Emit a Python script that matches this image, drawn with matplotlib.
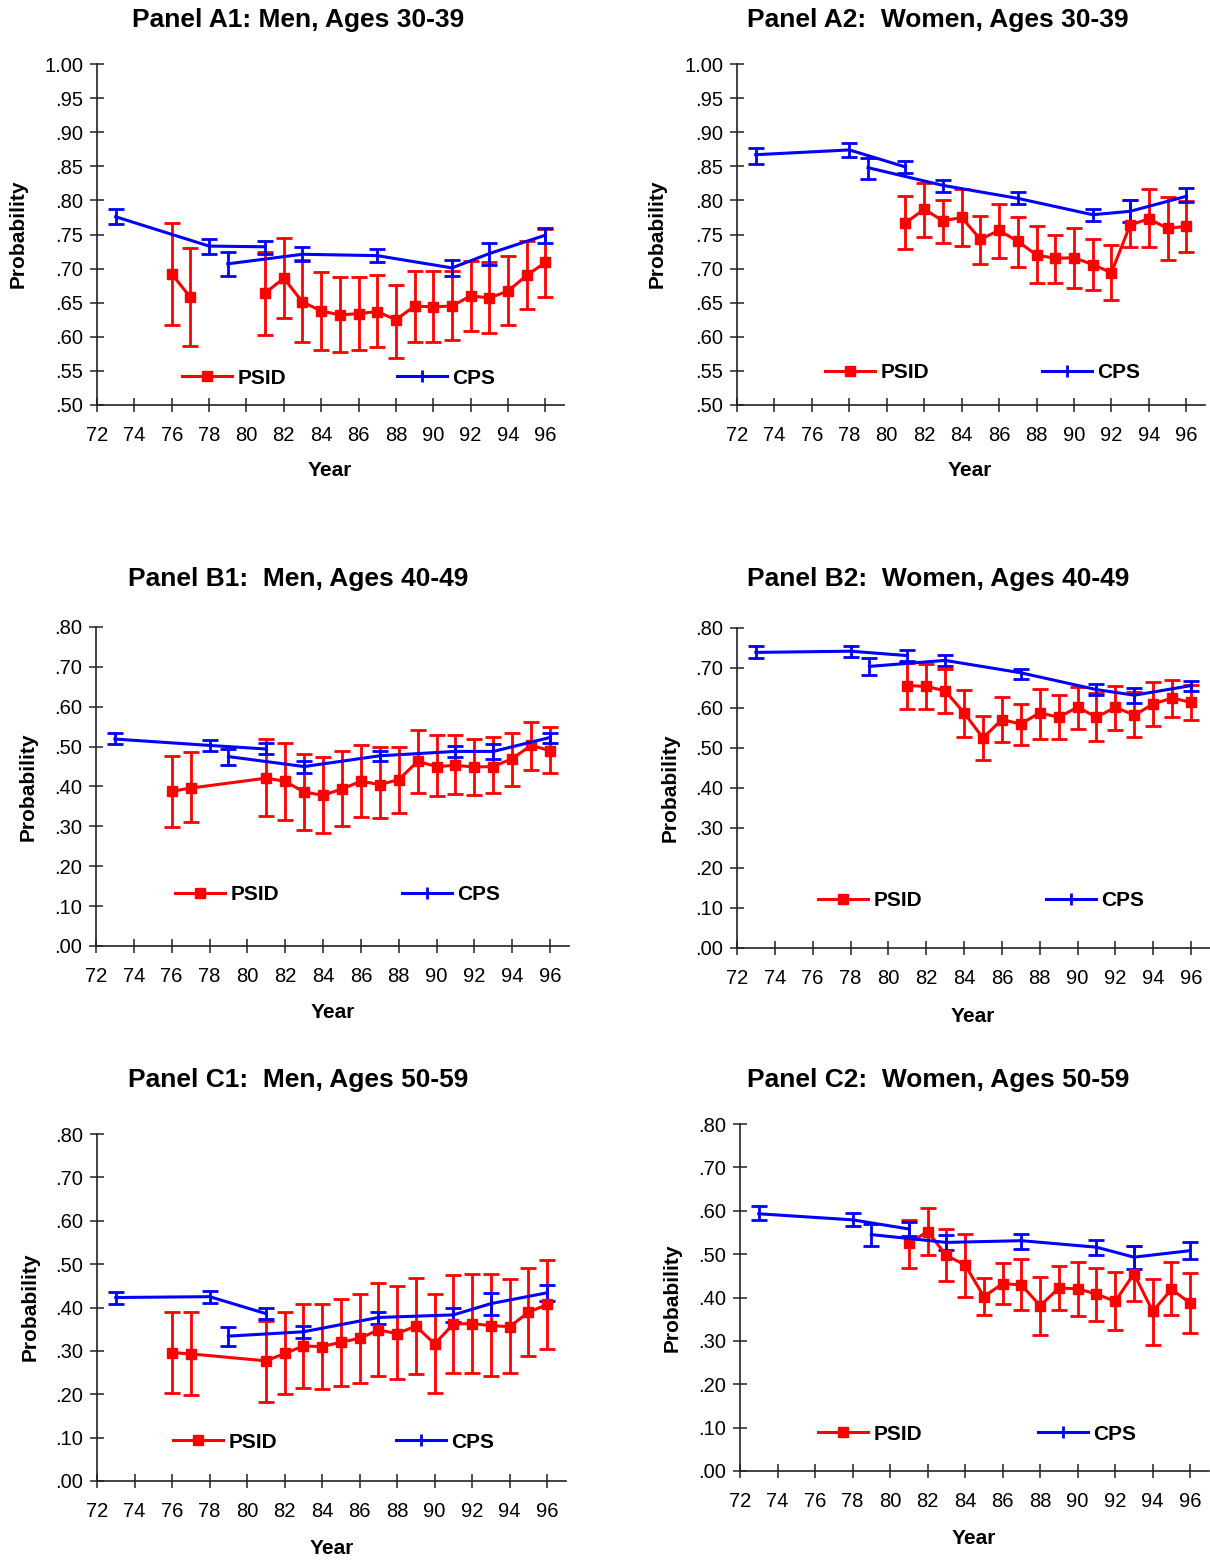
import matplotlib
matplotlib.use("Agg")
import matplotlib.pyplot as plt
from matplotlib.lines import Line2D
from matplotlib.ticker import FuncFormatter

plt.rcParams['font.family'] = ['Liberation Sans', 'DejaVu Sans']

RED = '#ff0000'
BLUE = '#0000ff'

# years
psid_years_long = [76, 77, 81, 82, 83, 84, 85, 86, 87, 88, 89, 90, 91, 92, 93, 94, 95, 96]
psid_years_short = [81, 82, 83, 84, 85, 86, 87, 88, 89, 90, 91, 92, 93, 94, 95, 96]
cps_years_old = [73, 78, 81]
cps_years_new = [79, 83, 87, 91, 93, 96]

# Panel A1: men 30-39
a1_psid = [.692, .658, .664, .686, .651, .638, .632, .634, .637, .625, .645, .644, .645, .660, .657, .667, .690, .709]
a1_psid_lo = [.618, .586, .602, .627, .592, .580, .578, .581, .585, .569, .593, .592, .595, .608, .605, .617, .641, .659]
a1_psid_hi = [.767, .730, .725, .745, .713, .695, .687, .687, .690, .676, .696, .696, .697, .711, .709, .718, .741, .758]
a1_cps_old = [.776, .733, .732]
a1_cps_old_lo = [.765, .722, .722]
a1_cps_old_hi = [.788, .744, .741]
a1_cps_new = [.707, .721, .719, .701, .722, .749]
a1_cps_new_lo = [.689, .711, .709, .689, .706, .737]
a1_cps_new_hi = [.724, .731, .729, .712, .737, .760]

# Panel A2: women 30-39
a2_psid = [.767, .787, .770, .775, .743, .756, .740, .720, .715, .716, .706, .694, .764, .773, .759, .762]
a2_psid_lo = [.729, .747, .737, .733, .707, .716, .703, .679, .679, .672, .668, .654, .731, .732, .713, .724]
a2_psid_hi = [.806, .826, .801, .817, .777, .795, .775, .762, .750, .760, .744, .735, .800, .816, .805, .799]
a2_cps_old = [.867, .874, .849]
a2_cps_old_lo = [.853, .864, .840]
a2_cps_old_hi = [.877, .884, .858]
a2_cps_new = [.848, .822, .803, .779, .784, .806]
a2_cps_new_lo = [.832, .813, .794, .770, .769, .797]
a2_cps_new_hi = [.862, .830, .813, .788, .800, .818]

# Panel B1: men 40-49
b1_psid = [.388, .396, .421, .413, .386, .378, .394, .413, .405, .417, .463, .450, .453, .449, .450, .470, .503, .490]
b1_psid_lo = [.299, .311, .327, .317, .291, .283, .302, .323, .320, .334, .384, .376, .381, .378, .384, .402, .442, .434]
b1_psid_hi = [.477, .486, .519, .509, .481, .475, .489, .504, .500, .500, .542, .528, .528, .519, .523, .535, .561, .550]
b1_cps_old = [.519, .503, .494]
b1_cps_old_lo = [.506, .489, .481]
b1_cps_old_hi = [.534, .517, .509]
b1_cps_new = [.475, .450, .477, .488, .488, .523]
b1_cps_new_lo = [.455, .434, .463, .474, .469, .509]
b1_cps_new_hi = [.494, .463, .489, .502, .506, .535]

# Panel B2: women 40-49
b2_psid = [.656, .654, .643, .588, .525, .571, .560, .588, .577, .602, .577, .602, .582, .610, .625, .614]
b2_psid_lo = [.598, .598, .588, .528, .471, .514, .508, .523, .523, .548, .517, .546, .527, .554, .577, .571]
b2_psid_hi = [.712, .711, .698, .644, .581, .627, .610, .648, .633, .652, .637, .654, .639, .665, .671, .657]
b2_cps_old = [.739, .742, .731]
b2_cps_old_lo = [.725, .728, .717]
b2_cps_old_hi = [.754, .756, .744]
b2_cps_new = [.704, .719, .688, .646, .632, .656]
b2_cps_new_lo = [.682, .706, .673, .633, .613, .643]
b2_cps_new_hi = [.725, .732, .698, .660, .650, .668]

# Panel C1: men 50-59
c1_psid = [.296, .293, .277, .294, .311, .310, .320, .329, .348, .340, .357, .316, .362, .363, .358, .356, .389, .407]
c1_psid_lo = [.202, .199, .182, .201, .214, .212, .219, .227, .241, .235, .247, .202, .250, .248, .241, .248, .289, .304]
c1_psid_hi = [.389, .390, .369, .390, .409, .409, .419, .432, .456, .449, .467, .430, .475, .477, .477, .465, .490, .510]
c1_cps_old = [.423, .425, .386]
c1_cps_old_lo = [.409, .411, .373]
c1_cps_old_hi = [.436, .438, .400]
c1_cps_new = [.334, .344, .377, .383, .409, .434]
c1_cps_new_lo = [.311, .329, .361, .367, .383, .415]
c1_cps_new_hi = [.354, .358, .390, .398, .434, .452]

# Panel C2: women 50-59
c2_psid = [.525, .552, .497, .475, .402, .432, .429, .381, .422, .420, .408, .391, .455, .368, .419, .387]
c2_psid_lo = [.469, .497, .437, .402, .360, .385, .372, .314, .372, .358, .345, .325, .393, .291, .359, .319]
c2_psid_hi = [.579, .606, .558, .547, .445, .479, .489, .448, .472, .481, .469, .458, .519, .442, .482, .456]
c2_cps_old = [.593, .579, .558]
c2_cps_old_lo = [.578, .564, .542]
c2_cps_old_hi = [.612, .594, .573]
c2_cps_new = [.545, .527, .531, .516, .493, .508]
c2_cps_new_lo = [.518, .510, .512, .498, .465, .489]
c2_cps_new_hi = [.569, .545, .546, .533, .519, .527]

W, H = 1210, 1560
fig = plt.figure(figsize=(W / 100, H / 100), dpi=100)


def px_axes(left, right, top, bottom):
    return fig.add_axes([left / W, 1 - bottom / H, (right - left) / W, (bottom - top) / H])


def yfmt(v, pos):
    if v > 0.999:
        return '1.00'
    return ('%.2f' % v)[1:]


def draw_errbar(ax, x, mid, lo, hi, color, marker):
    err = [[m - l for m, l in zip(mid, lo)], [h - m for m, h in zip(mid, hi)]]
    ax.errorbar(x, mid, yerr=err, color=color, lw=2.2, elinewidth=2.0,
                capsize=5.5, capthick=2.0, marker=marker, ms=7.5,
                markeredgecolor=color, markerfacecolor=color, zorder=3)


def panel(box, title, title_xy, ylab_xy, xlab_xy, leg_psid, leg_cps,
          psid_x, psid, psid_lo, psid_hi, cps_old, cps_old_lo, cps_old_hi,
          cps_new, cps_new_lo, cps_new_hi, ylim, ystep, psid_split=None):
    ax = px_axes(*box)
    if psid_split is None:
        draw_errbar(ax, psid_x, psid, psid_lo, psid_hi, RED, 's')
    else:
        k = psid_split
        draw_errbar(ax, psid_x[:k], psid[:k], psid_lo[:k], psid_hi[:k], RED, 's')
        draw_errbar(ax, psid_x[k:], psid[k:], psid_lo[k:], psid_hi[k:], RED, 's')
    draw_errbar(ax, cps_years_old, cps_old, cps_old_lo, cps_old_hi, BLUE, None)
    draw_errbar(ax, cps_years_new, cps_new, cps_new_lo, cps_new_hi, BLUE, None)

    ax.set_xlim(72, 97)
    ax.set_ylim(*ylim)
    ax.set_xticks(range(72, 97, 2))
    n = int(round((ylim[1] - ylim[0]) / ystep))
    ax.set_yticks([ylim[0] + i * ystep for i in range(n + 1)])
    ax.yaxis.set_major_formatter(FuncFormatter(yfmt))
    for s in ['top', 'right']:
        ax.spines[s].set_visible(False)
    for s in ['left', 'bottom']:
        ax.spines[s].set_linewidth(1.2)
        ax.spines[s].set_color('#222222')
    ax.tick_params(axis='both', direction='inout', length=10, width=1.1,
                   colors='#222222', labelcolor='black', labelsize=14.5)
    ax.tick_params(axis='x', pad=10)
    ax.tick_params(axis='y', pad=5)

    fig.text(title_xy[0] / W, 1 - title_xy[1] / H, title, ha='center', va='center',
             fontsize=19, fontweight='bold')
    fig.text(ylab_xy[0] / W, 1 - ylab_xy[1] / H, 'Probability', ha='center', va='center',
             rotation=90, fontsize=15, fontweight='bold')
    fig.text(xlab_xy[0] / W, 1 - xlab_xy[1] / H, 'Year', ha='center', va='center',
             fontsize=15, fontweight='bold')

    h_psid = Line2D([], [], color=RED, lw=2.2, marker='s', ms=7.5)
    h_cps = Line2D([], [], color=BLUE, lw=2.2, marker='|', ms=9, mew=2)
    for h, lab, pos in [(h_psid, 'PSID', leg_psid), (h_cps, 'CPS', leg_cps)]:
        fig.legend([h], [lab], loc='center left',
                   bbox_to_anchor=(pos[0] / W, 1 - pos[1] / H),
                   frameon=False, borderpad=0, borderaxespad=0,
                   handlelength=2.4, handletextpad=0.25,
                   prop={'size': 15, 'weight': 'bold'})
    return ax


panel((97, 564, 64, 405), 'Panel A1: Men, Ages 30-39', (298, 20), (18, 234), (330, 471),
      (182, 378), (397, 378), psid_years_long, a1_psid, a1_psid_lo, a1_psid_hi,
      a1_cps_old, a1_cps_old_lo, a1_cps_old_hi, a1_cps_new, a1_cps_new_lo, a1_cps_new_hi,
      (0.5, 1.0), 0.05, psid_split=2)
panel((737, 1205, 64, 405), 'Panel A2:  Women, Ages 30-39', (938, 20), (657, 234), (970, 471),
      (825, 373), (1042, 373), psid_years_short, a2_psid, a2_psid_lo, a2_psid_hi,
      a2_cps_old, a2_cps_old_lo, a2_cps_old_hi, a2_cps_new, a2_cps_new_lo, a2_cps_new_hi,
      (0.5, 1.0), 0.05)
panel((96, 569, 627, 946), 'Panel B1:  Men, Ages 40-49', (298, 579), (28, 787), (333, 1013),
      (175, 895), (402, 895), psid_years_long, b1_psid, b1_psid_lo, b1_psid_hi,
      b1_cps_old, b1_cps_old_lo, b1_cps_old_hi, b1_cps_new, b1_cps_new_lo, b1_cps_new_hi,
      (0.0, 0.8), 0.1)
panel((737, 1210, 628, 948), 'Panel B2:  Women, Ages 40-49', (938, 579), (670, 788), (973, 1016),
      (818, 901), (1046, 901), psid_years_short, b2_psid, b2_psid_lo, b2_psid_hi,
      b2_cps_old, b2_cps_old_lo, b2_cps_old_hi, b2_cps_new, b2_cps_new_lo, b2_cps_new_hi,
      (0.0, 0.8), 0.1)
panel((97, 566, 1134, 1481), 'Panel C1:  Men, Ages 50-59', (298, 1080), (30, 1307), (332, 1548),
      (173, 1442), (396, 1442), psid_years_long, c1_psid, c1_psid_lo, c1_psid_hi,
      c1_cps_old, c1_cps_old_lo, c1_cps_old_hi, c1_cps_new, c1_cps_new_lo, c1_cps_new_hi,
      (0.0, 0.8), 0.1)
panel((740, 1209, 1124, 1471), 'Panel C2:  Women, Ages 50-59', (938, 1080), (672, 1298), (974, 1538),
      (818, 1434), (1038, 1434), psid_years_short, c2_psid, c2_psid_lo, c2_psid_hi,
      c2_cps_old, c2_cps_old_lo, c2_cps_old_hi, c2_cps_new, c2_cps_new_lo, c2_cps_new_hi,
      (0.0, 0.8), 0.1)

fig.savefig('out.png', dpi=100, facecolor='white')
